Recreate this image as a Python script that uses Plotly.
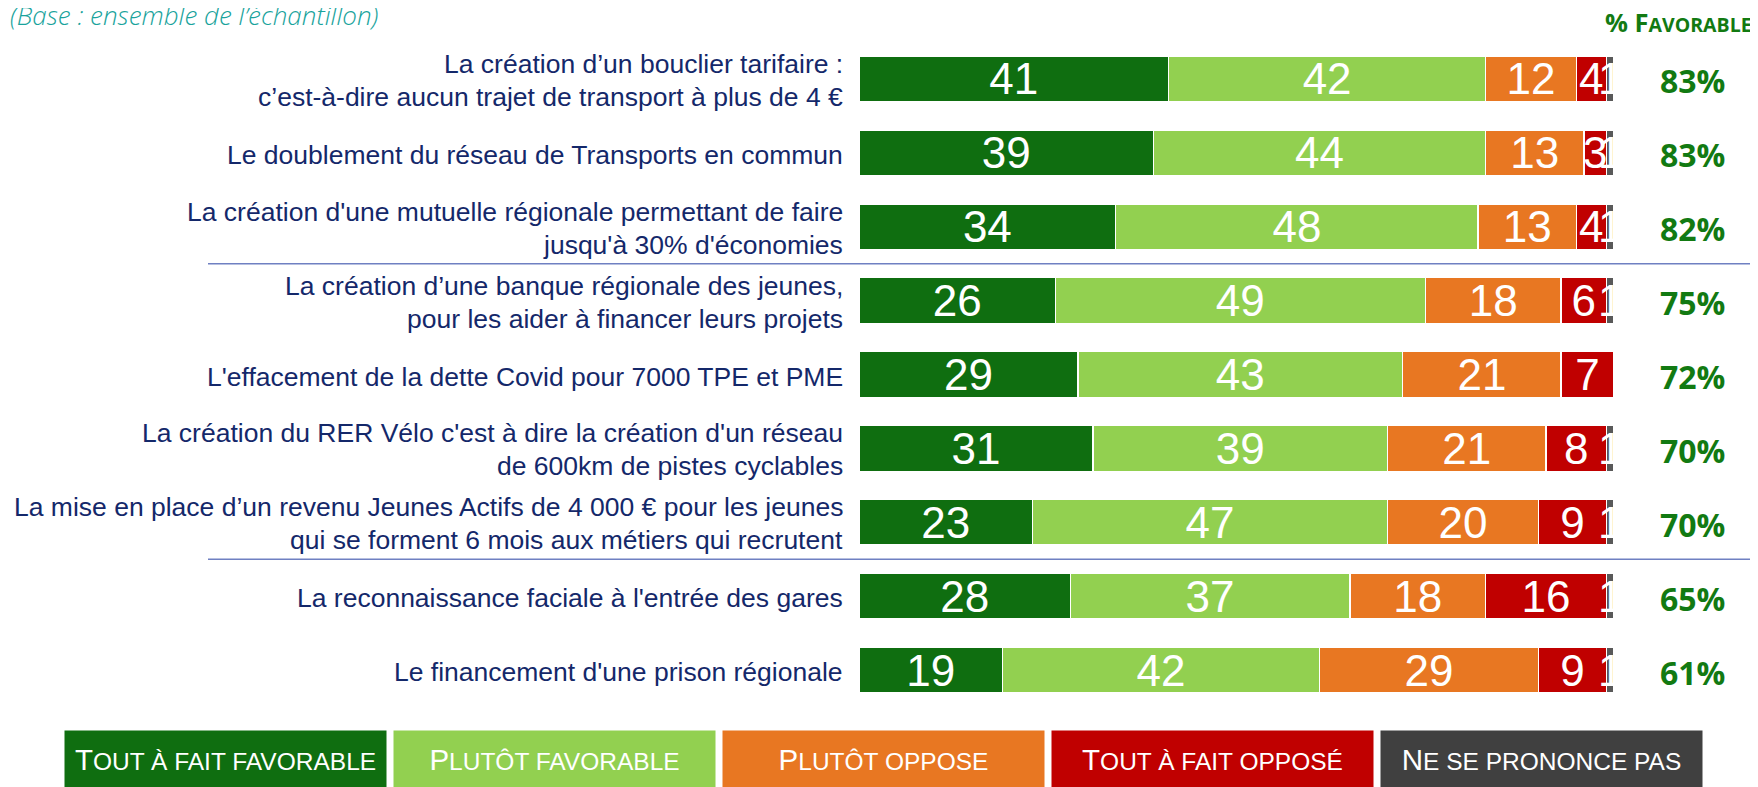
import plotly.graph_objects as go

labels = [
    "La création d’un bouclier tarifaire :\nc’est-à-dire aucun trajet de transport à plus de 4 €",
    "Le doublement du réseau de Transports en commun",
    "La création d'une mutuelle régionale permettant de faire\njusqu'à 30% d'économies",
    "La création d’une banque régionale des jeunes,\npour les aider à financer leurs projets",
    "L'effacement de la dette Covid pour 7000 TPE et PME",
    "La création du RER Vélo c'est à dire la création d'un réseau\nde 600km de pistes cyclables",
    "La mise en place d’un revenu Jeunes Actifs de 4 000 € pour les jeunes\nqui se forment 6 mois aux métiers qui recrutent",
    "La reconnaissance faciale à l'entrée des gares",
    "Le financement d'une prison régionale",
]
tout_fav = [41, 39, 34, 26, 29, 31, 23, 28, 19]
plutot_fav = [42, 44, 48, 49, 43, 39, 47, 37, 42]
plutot_opp = [12, 13, 13, 18, 21, 21, 20, 18, 29]
tout_opp = [4, 3, 4, 6, 7, 8, 9, 16, 9]
nsp = [1, 1, 1, 1, 0, 1, 1, 1, 1]
favorable = [83, 83, 82, 75, 72, 70, 70, 65, 61]

series_names = ["Tout à fait favorable", "Plutôt favorable", "Plutôt oppose",
                "Tout à fait opposé", "Ne se prononce pas"]
legend_caps = [("T", "OUT À FAIT FAVORABLE"), ("P", "LUTÔT FAVORABLE"), ("P", "LUTÔT OPPOSE"),
               ("T", "OUT À FAIT OPPOSÉ"), ("N", "E SE PRONONCE PAS")]
bar_colors = ["#0f6e10", "#92d050", "#e87722", "#c00000", "#595959"]
legend_colors = ["#0f6e10", "#92d050", "#e87722", "#c00000", "#404040"]
group_breaks = [2.5, 6.5]

series_values = [tout_fav, plutot_fav, plutot_opp, tout_opp, nsp]

fig = go.Figure()
for name, vals, col in zip(series_names, series_values, bar_colors):
    fig.add_trace(go.Bar(
        y=labels, x=vals, orientation="h", name=name,
        marker=dict(color=col, line=dict(color="white", width=1.5)),
        text=[str(v) if v > 0 else "" for v in vals],
        textposition="inside", insidetextanchor="middle", textangle=0,
        constraintext="none",
        textfont=dict(family="Liberation Sans, Arial", size=44, color="white"),
        hoverinfo="skip", showlegend=False,
    ))

# page body has an 8px margin: figure is offset by OFF in the window
OFF = 8
W, H = 1758 - OFF, 787 - OFF
L, T = 859 - OFF, 42 - OFF
R = W - (1614 - OFF)
B = H - (707.5 - OFF)
pw = W - L - R
ph = H - T - B

def xp(ref_px):
    return (ref_px - OFF - L) / pw

def yp(ref_py):
    return 1 - (ref_py - OFF - T) / ph

annotations = []
label_font = dict(family="Liberation Sans, Arial", size=26.5, color="#14286a")
for lab in labels:
    lines = lab.split("\n")
    shifts = [15, -18] if len(lines) == 2 else [-2]
    for line, s in zip(lines, shifts):
        annotations.append(dict(
            text=line, xref="paper", x=0, xshift=-14, xanchor="right",
            yref="y", y=lab, yshift=s, yanchor="middle",
            showarrow=False, font=label_font))

for lab, f in zip(labels, favorable):
    annotations.append(dict(
        text=f"{f}%", xref="paper", x=xp(1692), xanchor="center",
        yref="y", y=lab, yshift=-2, yanchor="middle", showarrow=False,
        font=dict(family="Open Sans", size=32, color="#127a12", weight="bold")))

annotations.append(dict(
    text="% F<span style='font-size:19.5px'>AVORABLE</span>",
    xref="paper", x=xp(1754), xanchor="right",
    yref="paper", y=yp(22), yanchor="middle", showarrow=False,
    font=dict(family="Open Sans", size=25.5, color="#127a12", weight="bold")))

annotations.append(dict(
    text="(Base : ensemble de l’échantillon)",
    xref="paper", x=xp(8), xanchor="left",
    yref="paper", y=yp(15), yanchor="middle", showarrow=False,
    font=dict(family="Open Sans", size=26, color="#19a39c", style="italic", weight=300)))

box_centers = [225, 554, 883, 1212, 1541]
for (big, small), col, cx in zip(legend_caps, legend_colors, box_centers):
    annotations.append(dict(
        text=f"{big}<span style='font-size:24.5px'>{small}</span>",
        xref="paper", x=xp(cx), xanchor="center",
        yref="paper", y=yp(731), yanchor="top",
        width=321, height=56, bgcolor=col, borderpad=0, align="center",
        valign="middle", showarrow=False,
        font=dict(family="Liberation Sans, Arial", size=29.5, color="white")))

shapes = []
for yb in group_breaks:
    shapes.append(dict(
        type="line", xref="paper", x0=xp(208), x1=xp(1760),
        yref="y", y0=yb, y1=yb, line=dict(color="#6f80c2", width=1.5)))

fig.update_layout(
    width=W, height=H, barmode="stack", bargap=0.38,
    margin=dict(l=L, r=R, t=T, b=B, pad=0),
    paper_bgcolor="white", plot_bgcolor="white",
    xaxis=dict(range=[0, 100], visible=False, fixedrange=True),
    yaxis=dict(categoryorder="array", categoryarray=labels,
               range=[len(labels) - 0.5, -0.5], showticklabels=False,
               showgrid=False, zeroline=False, showline=False, ticks=""),
    uniformtext=dict(minsize=44, mode="show"),
    annotations=annotations, shapes=shapes, showlegend=False,
)

fig.write_html("out.html")
